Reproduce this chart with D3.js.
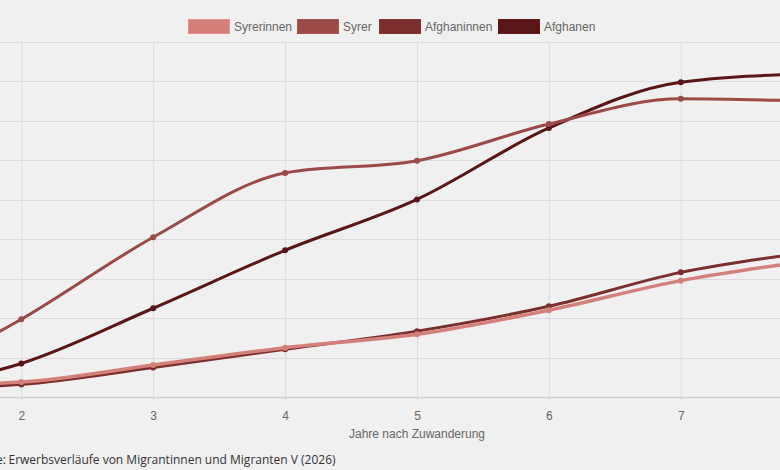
<!DOCTYPE html>
<html>
<head>
<meta charset="utf-8">
<script src="https://cdn.jsdelivr.net/npm/d3@7.9.0/dist/d3.min.js"></script>
<style>
  body { margin: 0; background: #f0f0f0; overflow: hidden; }
  #chart svg { display: block; }
</style>
</head>
<body>
<div id="chart"></div>
<script>
// years after arrival, visible range is cropped like the original
const years = [1, 2, 3, 4, 5, 6, 7, 8];
const yearLabels = [2, 3, 4, 5, 6, 7];
const yTicks = [0, 10, 20, 30, 40, 50, 60, 70, 80, 90];

const seriesNames = ["Syrerinnen", "Syrer", "Afghaninnen", "Afghanen"];
const seriesColors = ["#d3807a", "#9a4a47", "#7a2f2d", "#5a1616"];

const syrerinnen = [2.7, 3.8, 8.1, 12.5, 15.9, 22.0, 29.5, 34.6];
const syrer = [2.0, 19.7, 40.5, 56.8, 59.9, 69.2, 75.6, 75.0];
const afghaninnen = [2.0, 3.2, 7.5, 12.1, 16.7, 23.0, 31.6, 36.8];
const afghanen = [1.5, 8.5, 22.5, 37.2, 50.1, 68.2, 79.8, 82.0];

const seriesValues = [syrerinnen, syrer, afghaninnen, afghanen];

const width = 780;
const height = 470;

const plot = { top: 42, bottom: 397 };

const svg = d3
  .select('#chart')
  .append('svg')
  .attr('width', width)
  .attr('height', height);

svg.append('rect')
  .attr('width', width)
  .attr('height', height)
  .attr('fill', '#f0f0f0');

// x scale: year 2 sits at 21px, year 7 at 681px
const xScale = d3.scaleLinear()
  .domain([2, 7])
  .range([21.3, 680.8]);

const yScale = d3.scaleLinear()
  .domain([0, 90])
  .range([plot.bottom, plot.top]);

// horizontal gridlines
svg.append('g')
  .attr('class', 'gridlines')
  .selectAll('line')
  .data(yTicks)
  .join('line')
  .attr('x1', 0)
  .attr('x2', width)
  .attr('y1', d => Math.round(yScale(d)) + 0.5)
  .attr('y2', d => Math.round(yScale(d)) + 0.5)
  .attr('stroke', d => d === 0 ? '#cfcfcf' : '#dcdcdc')
  .attr('stroke-width', d => d === 0 ? 1.5 : 1);

// x axis with vertical gridlines
const xAxis = d3.axisBottom(xScale)
  .tickValues(yearLabels)
  .tickFormat(d3.format('d'))
  .tickSize(-(plot.bottom - plot.top) - 4)
  .tickPadding(10);

const xg = svg.append('g')
  .attr('transform', `translate(0, ${plot.bottom + 4})`)
  .call(xAxis);

xg.select('.domain').remove();
xg.selectAll('.tick line')
  .attr('stroke', '#dcdcdc');
xg.selectAll('.tick text')
  .attr('fill', '#666')
  .style('font-family', 'Liberation Sans, Arial, sans-serif')
  .style('font-size', '12px');

svg.append('text')
  .attr('x', xScale(5))
  .attr('y', 438)
  .attr('text-anchor', 'middle')
  .attr('fill', '#666')
  .style('font-family', 'Liberation Sans, Arial, sans-serif')
  .style('font-size', '12px')
  .text('Jahre nach Zuwanderung');

// lines (first dataset drawn last so it sits on top)
const line = d3.line()
  .x((d, i) => xScale(years[i]))
  .y(d => yScale(d))
  .curve(d3.curveMonotoneX);

const order = [3, 2, 1, 0];

const groups = svg.append('g')
  .selectAll('g')
  .data(order)
  .join('g');

groups.append('path')
  .attr('d', k => line(seriesValues[k]))
  .attr('fill', 'none')
  .attr('stroke', k => seriesColors[k])
  .attr('stroke-width', k => k === 0 ? 3.5 : 3)
  .attr('stroke-linejoin', 'round');

groups.selectAll('circle')
  .data(k => seriesValues[k].map(v => ({ k, v })))
  .join('circle')
  .attr('cx', (d, i) => xScale(years[i]))
  .attr('cy', d => yScale(d.v))
  .attr('r', 3)
  .attr('fill', d => seriesColors[d.k]);

// legend
const legendX = [188, 297, 379, 498];

const legend = svg.append('g')
  .selectAll('g')
  .data(seriesNames)
  .join('g')
  .attr('transform', (d, i) => `translate(${legendX[i]}, 19)`);

legend.append('rect')
  .attr('x', 0.5)
  .attr('y', 0.5)
  .attr('width', 41)
  .attr('height', 14)
  .attr('fill', (d, i) => seriesColors[i])
  .attr('stroke', (d, i) => d3.color(seriesColors[i]).brighter(0.3))
  .attr('stroke-width', 1);

legend.append('text')
  .attr('x', 46)
  .attr('y', 11.5)
  .attr('fill', '#666')
  .style('font-family', 'Liberation Sans, Arial, sans-serif')
  .style('font-size', '12px')
  .text(d => d);

// source line, cut on the left like the original
svg.append('text')
  .attr('x', 6)
  .attr('y', 464)
  .attr('text-anchor', 'end')
  .attr('fill', '#333')
  .style('font-family', 'Open Sans, sans-serif')
  .style('font-size', '12px')
  .text('Quelle:');

svg.append('text')
  .attr('x', 8.5)
  .attr('y', 464)
  .attr('fill', '#333')
  .style('font-family', 'Open Sans, sans-serif')
  .style('font-size', '12px')
  .text('Erwerbsverläufe von Migrantinnen und Migranten V (2026)');
</script>
</body>
</html>
